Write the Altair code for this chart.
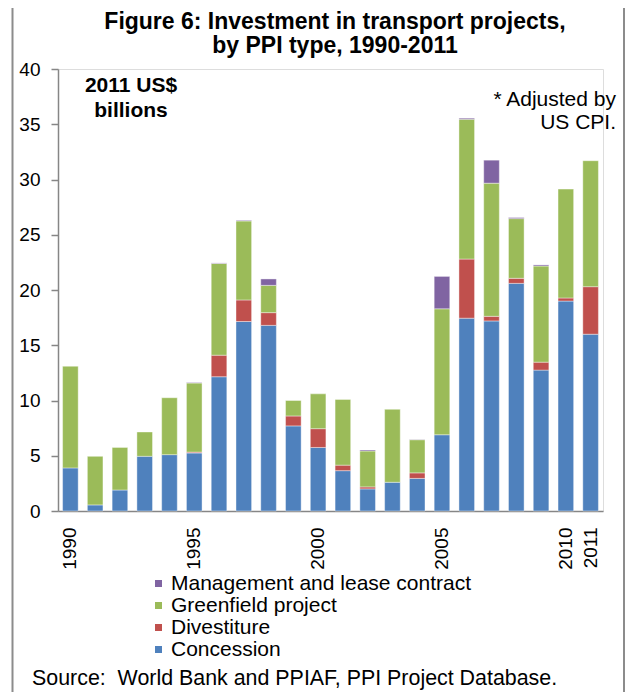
import altair as alt
import pandas as pd

# ---- data (2011 US$ billions) ----
years = list(range(1990, 2012))
type_names = ["Management and lease contract", "Greenfield project", "Divestiture", "Concession"]
type_colors = ["#8064A2", "#9BBB59", "#C0504D", "#4F81BD"]

concession = [3.9, 0.55, 1.9, 4.95, 5.1, 5.25, 12.15, 17.15, 16.8, 7.7, 5.75,
              3.65, 2.0, 2.6, 2.95, 6.9, 17.45, 17.2, 20.6, 12.75, 19.0, 16.0]
divestiture = [0, 0, 0, 0, 0, 0.08, 1.95, 1.95, 1.15, 0.9, 1.7,
               0.5, 0.18, 0, 0.5, 0, 5.35, 0.42, 0.46, 0.72, 0.28, 4.3]
greenfield = [9.2, 4.4, 3.85, 2.2, 5.15, 6.25, 8.3, 7.15, 2.47, 1.4, 3.15,
              5.95, 3.25, 6.6, 3.0, 11.4, 12.65, 12.05, 5.4, 8.7, 9.85, 11.4]
management = [0, 0, 0, 0, 0, 0.05, 0.05, 0.06, 0.58, 0, 0,
              0, 0.09, 0, 0.03, 2.93, 0.1, 2.08, 0.1, 0.1, 0, 0]

year_labels = [1990, 1995, 2000, 2005, 2010, 2011]
y_ticks = [0, 5, 10, 15, 20, 25, 30, 35, 40]

title_lines = ["Figure 6: Investment in transport projects,", "by PPI type, 1990-2011"]
unit_lines = ["2011 US$", "billions"]
note_lines = ["* Adjusted by", "US CPI."]
source_text = "Source:\u00a0 World Bank and PPIAF, PPI Project Database."

series = {
    "Concession": concession,
    "Divestiture": divestiture,
    "Greenfield project": greenfield,
    "Management and lease contract": management,
}
stack_rank = {"Concession": 0, "Divestiture": 1, "Greenfield project": 2,
              "Management and lease contract": 3}

rows = []
for name, vals in series.items():
    for yr, v in zip(years, vals):
        if v > 0:
            rows.append({"year": yr, "type": name, "value": v, "rank": stack_rank[name]})
df = pd.DataFrame(rows)

FONT = "Liberation Sans"
GRAY = "#868686"

bars = alt.Chart(df).mark_bar(stroke="#ffffff", strokeWidth=0.5, strokeOpacity=0.8).encode(
    x=alt.X("year:O", title=None,
            scale=alt.Scale(paddingInner=0.37, paddingOuter=0.185),
            axis=alt.Axis(values=year_labels, labelAngle=270, labelFontSize=19,
                          labelPadding=16, ticks=False, domainColor=GRAY,
                          domainWidth=1.5, labelColor="black", labelFont=FONT)),
    y=alt.Y("value:Q", title=None, stack="zero",
            scale=alt.Scale(domain=[0, 40], nice=False),
            axis=alt.Axis(values=y_ticks, tickSize=7, labelPadding=11, grid=False,
                          labelFontSize=19, labelColor="black", labelFont=FONT,
                          domainColor=GRAY, domainWidth=1.5, tickColor=GRAY,
                          tickWidth=1.5)),
    color=alt.Color("type:N",
                    scale=alt.Scale(domain=type_names, range=type_colors),
                    legend=alt.Legend(title=None, orient="none", legendX=90, legendY=504,
                                      symbolType="square", symbolSize=49,
                                      labelFontSize=21, labelFont=FONT, labelColor="black",
                                      labelLimit=500, rowPadding=0, labelOffset=2,
                                      padding=0, symbolStrokeWidth=0)),
    order=alt.Order("rank:Q", sort="ascending"),
)


def text_layer(label, x, y, size, weight="normal", align="left"):
    return alt.Chart(pd.DataFrame({"label": [label]})).mark_text(
        font=FONT, fontSize=size, fontWeight=weight, align=align,
        baseline="alphabetic", color="black"
    ).encode(text="label:N", x=alt.value(x), y=alt.value(y))


border = alt.Chart(pd.DataFrame({"a": [0]})).mark_rect(
    filled=False, stroke="#8c8c8c", strokeWidth=2
).encode(x=alt.value(-45.5), x2=alt.value(566), y=alt.value(-66), y2=alt.value(700))

texts = [
    text_layer(title_lines[0], 277, -40, 23, "bold", "center"),
    text_layer(title_lines[1], 277, -16, 23, "bold", "center"),
    text_layer(unit_lines[0], 73, 23, 21, "bold", "center"),
    text_layer(unit_lines[1], 73, 48, 21, "bold", "center"),
    text_layer(note_lines[0], 558, 37, 21, "normal", "right"),
    text_layer(note_lines[1], 558, 60, 21, "normal", "right"),
    text_layer(source_text, -26, 616, 21.4, "normal", "left"),
]

chart = alt.layer(border, bars, *texts).properties(
    width=545,
    height=442,
    autosize=alt.AutoSizeParams(type="none"),
    padding={"left": 50, "top": 61, "right": 23, "bottom": 181},
).configure_view(stroke=None).configure(background="white")

chart.save("out.html", embed_options={"renderer": "svg", "actions": False})
